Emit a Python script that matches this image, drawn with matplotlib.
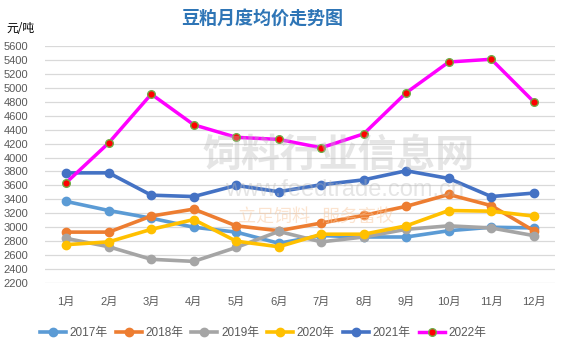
import matplotlib
matplotlib.use("Agg")
import matplotlib.pyplot as plt

plt.rcParams['font.family'] = ['Liberation Sans', 'Noto Sans CJK SC', 'DejaVu Sans']

months = ["1月", "2月", "3月", "4月", "5月", "6月", "7月", "8月", "9月", "10月", "11月", "12月"]
y2017 = [3370, 3240, 3130, 3000, 2930, 2770, 2880, 2860, 2860, 2950, 3000, 2990]
y2018 = [2930, 2930, 3160, 3260, 3020, 2950, 3060, 3170, 3300, 3470, 3310, 2950]
y2019 = [2840, 2720, 2540, 2510, 2710, 2940, 2790, 2860, 2970, 3020, 2990, 2880]
y2020 = [2750, 2790, 2970, 3110, 2800, 2720, 2900, 2900, 3020, 3240, 3230, 3160]
y2021 = [3780, 3780, 3460, 3440, 3600, 3510, 3610, 3680, 3810, 3700, 3440, 3490]
y2022 = [3640, 4210, 4910, 4470, 4290, 4260, 4140, 4340, 4930, 5370, 5410, 4800]

series_names = ["2017年", "2018年", "2019年", "2020年", "2021年", "2022年"]
series_vals = [y2017, y2018, y2019, y2020, y2021, y2022]
colors = ["#5B9BD5", "#ED7D31", "#A5A5A5", "#FFC000", "#4472C4", "#FF00FF"]
yticks = list(range(2200, 5601, 200))

W, H = 565, 352
fig = plt.figure(figsize=(W / 100, H / 100), dpi=100)
ax = fig.add_axes([45 / W, 1 - 283 / H, (555 - 45) / W, (283 - 46) / H])

x = list(range(len(months)))

# watermark
fig.text(0.60, 0.56, "饲料行业信息网", fontsize=28, color="#BBBBBB", alpha=0.38,
         ha="center", va="center", fontweight="bold", family=['Noto Sans CJK SC'], zorder=0)
fig.text(0.61, 0.46, "www.feedtrade.com.cn", fontsize=17, color="#BBBBBB", alpha=0.38,
         ha="center", va="center", zorder=0)
fig.text(0.56, 0.385, "立足饲料   服务畜牧", fontsize=13, color="#F8C9A0", alpha=0.5,
         ha="center", va="center", style="italic", family=['Noto Sans CJK SC'], zorder=0)

for name, vals, c in zip(series_names, series_vals, colors):
    if name == "2022年":
        ax.plot(x, vals, color=c, lw=2.5, marker="o", markersize=5.5,
                markerfacecolor="#FF0000", markeredgecolor="#70AD47", markeredgewidth=1.0,
                label=name, zorder=4)
    else:
        ax.plot(x, vals, color=c, lw=2.6, marker="o", markersize=6,
                markerfacecolor=c, markeredgecolor=c, label=name, zorder=3)

ax.set_xlim(-0.5, len(months) - 0.5)
ax.set_ylim(2200, 5600)
ax.set_yticks(yticks)
ax.set_yticklabels([str(v) for v in yticks])
ax.set_xticks(x)
ax.set_xticklabels(months)
ax.grid(axis="y", color="#D9D9D9", lw=0.9)
ax.set_axisbelow(True)
for s in ax.spines.values():
    s.set_visible(False)
ax.tick_params(axis="both", length=0, labelsize=8, colors="#595959")
ax.tick_params(axis="x", pad=10)
ax.tick_params(axis="y", pad=12)
ax.patch.set_alpha(0)

fig.text(262 / W, 1 - 18 / H, "豆粕月度均价走势图", fontsize=13, fontweight="bold",
         color="#2E75B6", ha="center", va="center", family=['Noto Sans CJK SC'])
fig.text(6 / W, 1 - 29 / H, "元/吨", fontsize=8.5, color="#000000", ha="left", va="center",
         family=['Noto Sans CJK SC'])

leg = fig.legend(loc="center", bbox_to_anchor=(263 / W, 1 - 333 / H), ncol=6, frameon=False,
                 fontsize=8.5, handlelength=2.2, columnspacing=0.7, handletextpad=0.3,
                 labelcolor="#595959")

fig.savefig("out.png", dpi=100)
